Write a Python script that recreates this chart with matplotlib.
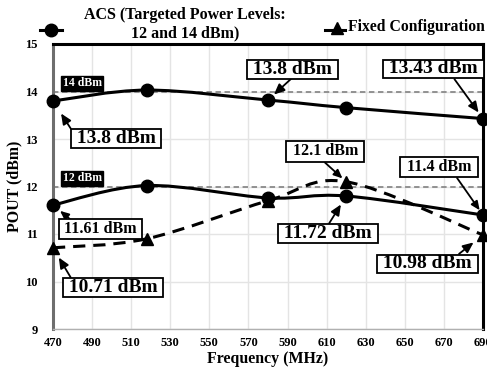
import numpy as np
import matplotlib
matplotlib.use("Agg")
import matplotlib.pyplot as plt
from matplotlib.path import Path
from matplotlib.patches import PathPatch
from matplotlib.lines import Line2D

freq = [470, 518, 580, 620, 690]
acs14 = [13.8, 14.03, 13.82, 13.66, 13.43]
acs12 = [11.61, 12.02, 11.76, 11.8, 11.4]
fixed = [10.71, 10.9, 11.7, 12.1, 10.98]
targets = [14, 12]
xticks = list(range(470, 691, 20))
yticks = list(range(9, 16))

SERIF = ["Liberation Serif", "DejaVu Serif"]
plt.rcParams['font.family'] = SERIF
plt.rcParams['font.weight'] = 'bold'

fig = plt.figure(figsize=(4.87, 3.71), dpi=100)
ax = fig.add_axes([53/487, 1-329/371, 430/487, 285/371])
ax.set_xlim(470, 690)
ax.set_ylim(9, 15)
ax.set_xticks(xticks)
ax.set_yticks(yticks)
ax.grid(True, color="#e4e4e4", lw=1.0)
ax.set_axisbelow(True)
ax.tick_params(axis='x', length=0, labelsize=9, pad=6)
ax.tick_params(axis='y', length=0, labelsize=9, pad=11)
for lab in ax.get_xticklabels() + ax.get_yticklabels():
    lab.set_fontweight('bold')
ax.spines['left'].set_color('#6e6e6e')
ax.spines['left'].set_linewidth(2.2)
ax.spines['bottom'].set_color('#b0b0b0')
ax.spines['bottom'].set_linewidth(1.0)
ax.spines['top'].set_linewidth(2.2)
ax.spines['right'].set_linewidth(2.2)

def smooth_path(xs, ys):
    pts = np.column_stack([xs, ys]).astype(float)
    n = len(pts)
    verts = [pts[0]]
    codes = [Path.MOVETO]
    for i in range(n - 1):
        p0 = pts[max(i - 1, 0)]
        p1 = pts[i]
        p2 = pts[i + 1]
        p3 = pts[min(i + 2, n - 1)]
        c1 = p1 + (p2 - p0) / 6.0
        c2 = p2 - (p3 - p1) / 6.0
        verts += [c1, c2, p2]
        codes += [Path.CURVE4] * 3
    return Path(verts, codes)

for t in targets:
    ax.axhline(t, color="#8a8a8a", lw=1.3, ls=(0, (3, 2)), zorder=2)
    ax.text(485, t + 0.17, f"{t} dBm", color="white", fontsize=8.5, fontweight='bold',
            ha='center', va='center', zorder=6,
            bbox=dict(boxstyle="square,pad=0.12", fc="black", ec="black"))

for ys in (acs14, acs12):
    ax.add_patch(PathPatch(smooth_path(freq, ys), fill=False, ec="black", lw=2.2, zorder=4))
    ax.plot(freq, ys, ls='none', marker='o', ms=9, color='black', zorder=5, clip_on=False)

ax.add_patch(PathPatch(smooth_path(freq, fixed), fill=False, ec="black", lw=2.2,
                       ls=(0, (4, 2.6)), zorder=3))
ax.plot(freq, fixed, ls='none', marker='^', ms=9, color='black', zorder=5, clip_on=False)

def note(text, xi, ys, off, relpos, shrink, fs, pad):
    ax.annotate(" " + text + " ", xy=(freq[xi], ys[xi]), xytext=off, textcoords='offset points',
                ha='center', va='center', fontsize=fs, fontweight='bold', zorder=7,
                bbox=dict(boxstyle=f"square,pad={pad}", fc="white", ec="black", lw=1.3),
                arrowprops=dict(arrowstyle='-|>,head_length=0.45,head_width=0.2', color='black',
                                lw=1.3, relpos=relpos, shrinkA=0, shrinkB=shrink),
                annotation_clip=False)

BIG, SMALL = 14, 11.5
note("13.8 dBm", 0, acs14, (45.4, -27), (0.0, 1.0), 10.7, BIG, 0.05)
note("13.8 dBm", 2, acs14, (17.6, 22.3), (0.5, 0.0), 5.8, BIG, 0.05)
note("13.43 dBm", 4, acs14, (-35.6, 35.7), (0.7, 0.0), 5.4, BIG, 0.05)
note("12.1 dBm", 3, fixed, (-15.1, 21.8), (0.45, 0.0), 3.6, SMALL, 0.15)
note("11.4 dBm", 4, acs12, (-31.7, 34.6), (0.72, 0.0), 4.2, SMALL, 0.15)
note("11.61 dBm", 0, acs12, (34.2, -17.3), (0.15, 1.0), 6.6, SMALL, 0.1)
note("11.72 dBm", 3, acs12, (-13, -27), (0.5, 1.0), 7.2, BIG, 0.05)
note("10.71 dBm", 0, fixed, (43.2, -28.6), (0.08, 1.0), 8.2, BIG, 0.05)
note("10.98 dBm", 4, fixed, (-40, -20.9), (0.8, 1.0), 8.7, BIG, 0.05)

ax.set_xlabel("Frequency (MHz)", fontsize=11.4, fontweight='bold', labelpad=1)
ax.set_ylabel("POUT (dBm)", fontsize=11.4, fontweight='bold', labelpad=2)

# legend
fig.add_artist(Line2D([40/487, 62/487], [1-30/371, 1-30/371], color='black', lw=2.2))
fig.add_artist(Line2D([51/487], [1-30/371], color='black', marker='o', ms=9, ls='none'))
fig.text(185/487, 1-15/371, "ACS (Targeted Power Levels:", fontsize=11.5, fontweight='bold',
         ha='center', va='center')
fig.text(185/487, 1-33/371, "12 and 14 dBm)", fontsize=11.5, fontweight='bold',
         ha='center', va='center')
fig.add_artist(Line2D([325/487, 345/487], [1-30/371, 1-30/371], color='black', lw=2.2))
fig.add_artist(Line2D([337/487], [1-28/371], color='black', marker='^', ms=9, ls='none'))
fig.text(348/487, 1-27/371, "Fixed Configuration", fontsize=11.3, fontweight='bold',
         ha='left', va='center')

fig.savefig("out.png", dpi=100)
